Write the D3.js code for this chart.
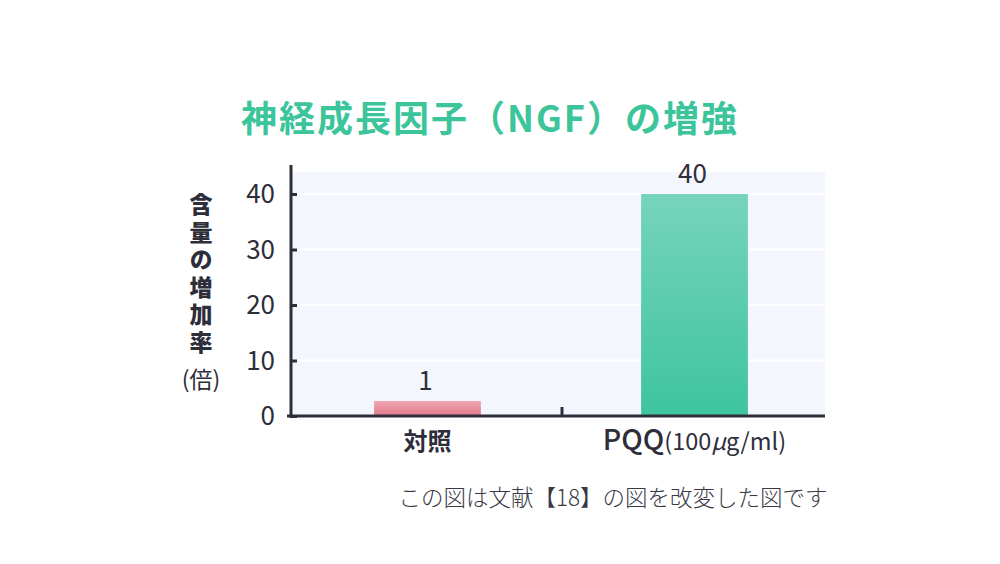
<!DOCTYPE html>
<html><head><meta charset="utf-8">
<script src="https://cdn.jsdelivr.net/npm/d3@7"></script>
<style>html,body{margin:0;padding:0;background:#fff;}svg{display:block;font-family:"Noto Sans CJK JP","Noto Sans",sans-serif;}</style>
</head><body>
<svg id="c" width="1000" height="564"></svg>
<script>
const title = "神経成長因子（NGF）の増強";
const categories = ["対照", "PQQ"];
const categorySuffix = ["", "(100μg/ml)"];
const values = [1, 40];
const valueLabels = ["1", "40"];
const yTicks = [0, 10, 20, 30, 40];
const yTitle = "含量の増加率";
const yTitleUnit = "(倍)";
const note = "この図は文献【18】の図を改変した図です";

(function(){
const svg = d3.select("#c");
const pLeft = 291, pRight = 825, pTop = 172, pBottom = 416;
const y = d3.scaleLinear().domain([0, 40]).range([pBottom, 194]);
const x = d3.scaleBand().domain(categories).range([pLeft, pRight]).padding(0);
const ink = "#2e2e3a";

const defs = svg.append("defs");
const g1 = defs.append("linearGradient").attr("id","gPink").attr("x1",0).attr("y1",0).attr("x2",0).attr("y2",1);
g1.append("stop").attr("offset","0%").attr("stop-color","#efa5b3");
g1.append("stop").attr("offset","100%").attr("stop-color","#e27a8b");
const g2 = defs.append("linearGradient").attr("id","gGreen").attr("x1",0).attr("y1",0).attr("x2",0).attr("y2",1);
g2.append("stop").attr("offset","0%").attr("stop-color","#77d4bc");
g2.append("stop").attr("offset","100%").attr("stop-color","#3ec49f");
const fills = ["url(#gPink)", "url(#gGreen)"];

svg.append("rect").attr("x", pLeft).attr("y", pTop).attr("width", pRight-pLeft).attr("height", pBottom-pTop).attr("fill","#f3f6fc");
svg.append("g").selectAll("line").data(yTicks.filter(d=>d>0)).join("line")
  .attr("x1", pLeft).attr("x2", pRight).attr("y1", d=>y(d)).attr("y2", d=>y(d))
  .attr("stroke","#ffffff").attr("stroke-width",2);

svg.append("text").attr("x", 490).attr("y", 132).attr("text-anchor","middle")
  .attr("font-size", 36).attr("font-weight", 700).attr("fill","#3cc49b").attr("letter-spacing","2px").text(title);

const minBarPx = 15;
const bw = x.bandwidth()*0.4;
svg.append("g").selectAll("rect").data(values).join("rect")
  .attr("x", (d,i)=>x(categories[i]) + x.bandwidth()/2 - bw/2 + 3)
  .attr("width", bw)
  .attr("y", d=>Math.min(y(d), pBottom - minBarPx))
  .attr("height", d=>Math.max(pBottom - y(d), minBarPx))
  .attr("fill", (d,i)=>fills[i]);

svg.append("g").selectAll("text").data(values).join("text")
  .attr("x", (d,i)=>x(categories[i]) + x.bandwidth()/2 + 1)
  .attr("y", d=>Math.min(y(d), pBottom - minBarPx) - 11)
  .attr("text-anchor","middle").attr("font-size",26).attr("font-weight",400).attr("fill",ink)
  .text((d,i)=>valueLabels[i]);

const yAxis = d3.axisRight(y).tickValues(yTicks).tickSize(6).tickFormat("");
const ya = svg.append("g").attr("transform",`translate(${pLeft},0)`).call(yAxis);
ya.select(".domain").remove();
ya.selectAll(".tick line").attr("stroke",ink).attr("stroke-width",3);
svg.append("line").attr("x1",pLeft).attr("x2",pLeft).attr("y1",165).attr("y2",pBottom+2)
  .attr("stroke",ink).attr("stroke-width",3);
svg.append("g").selectAll("text").data(yTicks).join("text")
  .attr("x", 275).attr("y", d=>y(d)).attr("dy","0.36em").attr("text-anchor","end")
  .attr("font-size",26).attr("font-weight",400).attr("fill",ink).text(d=>d);

svg.append("line").attr("x1",287).attr("x2",pRight).attr("y1",pBottom).attr("y2",pBottom)
  .attr("stroke",ink).attr("stroke-width",3);
svg.append("line").attr("x1", x(categories[1])+4).attr("x2", x(categories[1])+4).attr("y1",pBottom).attr("y2",pBottom-9)
  .attr("stroke",ink).attr("stroke-width",3);

const cl = svg.append("g").selectAll("text").data(categories).join("text")
  .attr("x",(d,i)=>x(d)+x.bandwidth()/2+3).attr("y",450).attr("text-anchor","middle")
  .attr("fill",ink);
cl.each(function(d,i){
  const t = d3.select(this);
  t.append("tspan").attr("font-size",i===0?24:28.5).attr("font-weight", i===0?700:500).text(d);
  if (categorySuffix[i]) {
    const parts = categorySuffix[i].split("μ");
    t.append("tspan").attr("font-size",23.5).text(parts[0]);
    t.append("tspan").attr("font-size",23.5).attr("font-style","italic").text("μ");
    t.append("tspan").attr("font-size",23.5).text(parts[1]);
  }
});

svg.append("text").attr("x",201).attr("y",193)
  .style("writing-mode","vertical-rl").style("text-orientation","upright")
  .attr("letter-spacing","4.5px")
  .attr("font-size",23).attr("font-weight",900).attr("fill",ink).text(yTitle);
svg.append("text").attr("x",201).attr("y",388).attr("text-anchor","middle")
  .attr("font-size",23).attr("fill",ink).text(yTitleUnit);

svg.append("text").attr("x",613).attr("y",506).attr("text-anchor","middle")
  .attr("font-size",22.5).attr("font-weight",300).attr("fill","#3a3a46").text(note);
})();
</script>
</body></html>
